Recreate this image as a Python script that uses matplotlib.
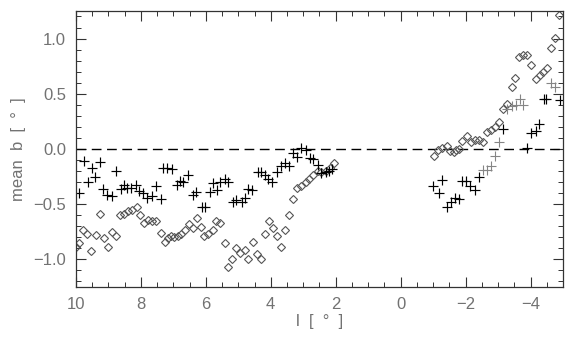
import matplotlib
matplotlib.use("Agg")
import matplotlib.pyplot as plt
from matplotlib.ticker import MultipleLocator

# crosses (black)
plus_l = [9.90, 9.75, 9.62, 9.50, 9.40, 9.26, 9.16, 9.04, 8.90, 8.75, 8.62, 8.52, 8.42, 8.29, 8.15,
          8.05, 7.93, 7.81, 7.66, 7.52, 7.39, 7.31, 7.19, 7.04, 6.90, 6.80, 6.70, 6.56, 6.39, 6.29,
          6.11, 6.03, 5.88, 5.78, 5.65, 5.55, 5.42, 5.31, 5.16, 5.06, 4.90, 4.80, 4.70, 4.58, 4.39,
          4.29, 4.18, 4.08, 3.96, 3.81, 3.67, 3.57, 3.44, 3.31, 3.19, 3.06, 2.92, 2.78, 2.70, 2.54,
          2.44, 2.31, 2.21, 2.10,
          -1.00, -1.18, -1.28, -1.44, -1.54, -1.66, -1.78, -1.90, -2.02, -2.14, -2.28, -2.41,
          -3.15, -3.89, -4.02, -4.15, -4.26, -4.40, -4.48, -4.89]
plus_b = [-0.40, -0.11, -0.30, -0.17, -0.25, -0.12, -0.36, -0.42, -0.43, -0.20, -0.36, -0.33, -0.35, -0.355, -0.33,
          -0.38, -0.40, -0.44, -0.43, -0.34, -0.45, -0.17, -0.175, -0.18, -0.33, -0.29, -0.30, -0.24, -0.42, -0.39,
          -0.53, -0.53, -0.39, -0.31, -0.37, -0.30, -0.27, -0.30, -0.48, -0.46, -0.485, -0.44, -0.36, -0.37, -0.21,
          -0.21, -0.24, -0.27, -0.30, -0.21, -0.15, -0.13, -0.15, -0.036, -0.07, 0.01, -0.006, -0.085, -0.09, -0.145,
          -0.22, -0.21, -0.20, -0.18,
          -0.34, -0.40, -0.28, -0.53, -0.48, -0.445, -0.455, -0.29, -0.29, -0.34, -0.37, -0.25,
          0.18, 0.01, 0.14, 0.16, 0.23, 0.455, 0.455, 0.44]

# crosses (lighter)
plus2_l = [-2.53, -2.66, -2.77, -2.89, -3.02, -3.27, -3.41, -3.54, -3.66, -3.76, -4.64, -4.74]
plus2_b = [-0.19, -0.19, -0.15, -0.06, 0.06, 0.36, 0.39, 0.40, 0.455, 0.40, 0.60, 0.56]

# diamonds
dia_l = [9.98, 9.90, 9.78, 9.65, 9.52, 9.39, 9.26, 9.14, 9.01, 8.88, 8.77, 8.65, 8.52, 8.39, 8.27,
         8.13, 8.03, 7.91, 7.78, 7.64, 7.52, 7.39, 7.26, 7.16, 7.08, 6.98, 6.87, 6.75, 6.65, 6.52,
         6.39, 6.27, 6.15, 6.05, 5.93, 5.78, 5.67, 5.55, 5.42, 5.31, 5.18, 5.06, 4.95, 4.80, 4.70,
         4.55, 4.42, 4.29, 4.18, 4.05, 3.93, 3.81, 3.67, 3.57, 3.44, 3.31, 3.19, 3.06, 2.92, 2.82,
         2.70, 2.56, 2.44, 2.31, 2.18, 2.06,
         -1.03, -1.15, -1.28, -1.41, -1.51, -1.63, -1.71, -1.79, -1.90, -2.04, -2.15, -2.28, -2.41,
         -2.53, -2.66, -2.79, -2.89, -3.02, -3.15, -3.27, -3.41, -3.51, -3.64, -3.76, -3.90, -4.02,
         -4.15, -4.28, -4.38, -4.51, -4.64, -4.76, -4.87]
dia_b = [-0.885, -0.855, -0.73, -0.77, -0.92, -0.78, -0.59, -0.81, -0.89, -0.755, -0.79, -0.60, -0.59, -0.56, -0.555,
         -0.53, -0.60, -0.67, -0.645, -0.65, -0.655, -0.76, -0.84, -0.81, -0.79, -0.80, -0.79, -0.77, -0.73, -0.68,
         -0.72, -0.63, -0.71, -0.79, -0.77, -0.73, -0.65, -0.67, -0.855, -1.07, -1.00, -0.90, -0.945, -0.915, -1.00,
         -0.84, -0.955, -1.00, -0.77, -0.65, -0.72, -0.79, -0.885, -0.73, -0.60, -0.45, -0.35, -0.34, -0.30, -0.27,
         -0.24, -0.20, -0.21, -0.20, -0.17, -0.13,
         -0.06, -0.01, 0.01, 0.024, -0.015, -0.03, -0.01, 0.0, 0.07, 0.12, 0.06, 0.08, 0.085,
         0.066, 0.15, 0.17, 0.20, 0.24, 0.36, 0.41, 0.56, 0.645, 0.83, 0.85, 0.85, 0.76,
         0.63, 0.67, 0.70, 0.73, 0.915, 1.005, 1.21]

plt.rcParams['font.family'] = ['Liberation Sans', 'DejaVu Sans']
txt = '#727272'

fig = plt.figure(figsize=(5.7, 3.42), dpi=100)
ax = fig.add_axes([0.133, 0.161, 0.855, 0.807])

ax.axhline(0, color='black', lw=1.0, dashes=(7, 4))
ax.plot(dia_l, dia_b, linestyle='none', marker='D', markersize=4.2, mfc='none', mec='#555555', mew=0.8)
ax.plot(plus2_l, plus2_b, linestyle='none', marker='+', markersize=7.5, mec='#858585', mew=0.8)
ax.plot(plus_l, plus_b, linestyle='none', marker='+', markersize=7.5, mec='black', mew=0.85)

ax.set_xlim(10, -5)
ax.set_ylim(-1.25, 1.25)
ax.xaxis.set_minor_locator(MultipleLocator(0.5))
ax.yaxis.set_minor_locator(MultipleLocator(0.1))
ax.set_yticks([-1.0, -0.5, 0.0, 0.5, 1.0])
ax.set_yticklabels(['\u22121.0', '\u22120.5', '0.0', '0.5', '1.0'])
ax.set_xticks([10, 8, 6, 4, 2, 0, -2, -4])
ax.set_xticklabels(['10', '8', '6', '4', '2', '0', '\u22122', '\u22124'])

ax.tick_params(which='both', direction='in', top=True, right=True, colors='#333333',
               labelcolor=txt, labelsize=12)
ax.tick_params(which='major', length=7, width=0.8, pad=7)
ax.tick_params(which='minor', length=3.5, width=0.7)
for s in ax.spines.values():
    s.set_color('#333333')
    s.set_linewidth(0.9)

ax.set_xlabel('l  [  \u00b0  ]', color=txt, fontsize=12, labelpad=2)
ax.set_ylabel('mean  b  [  \u00b0  ]', color=txt, fontsize=12, labelpad=5)

fig.savefig('out.png', dpi=100)
